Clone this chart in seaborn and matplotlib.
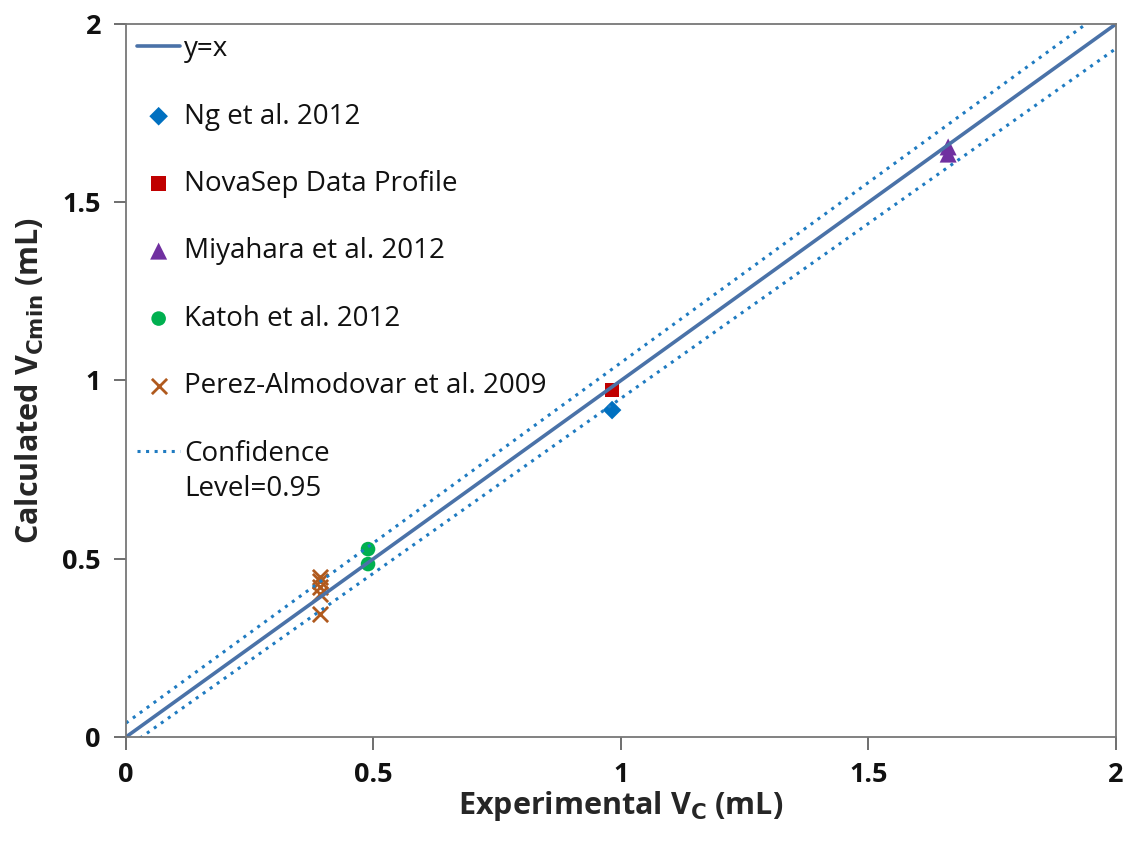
import numpy as np
import pandas as pd
import matplotlib
matplotlib.use("Agg")
import matplotlib.pyplot as plt
import seaborn as sns

# Measured vs. calculated column volumes (mL)
ng_x = [0.982]
ng_y = [0.917]
novasep_x = [0.982]
novasep_y = [0.973]
miyahara_x = [1.661, 1.661]
miyahara_y = [1.655, 1.635]
katoh_x = [0.489, 0.489]
katoh_y = [0.527, 0.485]
perez_x = [0.392, 0.392, 0.392, 0.392, 0.392]
perez_y = [0.450, 0.438, 0.420, 0.402, 0.345]

# Reference line and 95% confidence bounds
line_x = [0.0, 2.0]
identity_y = [0.0, 2.0]
upper_y = [0.039, 2.061]
lower_y = [-0.031, 1.931]

sns.set_theme(style="white")
plt.rcParams["font.family"] = ["Open Sans", "DejaVu Sans"]

fig = plt.figure(figsize=(11.27, 8.47), dpi=100)
ax = fig.add_axes([0.1118, 0.1299, 0.8784, 0.8418])

sns.lineplot(x=line_x, y=identity_y, ax=ax, color="#4A72A8", lw=2.6, label="y=x")
sns.scatterplot(x=ng_x, y=ng_y, ax=ax, marker="D", s=90, color="#0070C0",
                edgecolor="none", label="Ng et al. 2012")
sns.scatterplot(x=novasep_x, y=novasep_y, ax=ax, marker="s", s=110, color="#C00000",
                edgecolor="none", label="NovaSep Data Profile")
sns.scatterplot(x=miyahara_x, y=miyahara_y, ax=ax, marker="^", s=150, color="#7030A0",
                edgecolor="none", label="Miyahara et al. 2012")
sns.scatterplot(x=katoh_x, y=katoh_y, ax=ax, marker="o", s=110, color="#00B050",
                edgecolor="none", label="Katoh et al. 2012")
sns.scatterplot(x=perez_x, y=perez_y, ax=ax, marker="x", s=120, color="#B05A1E",
                linewidth=2, label="Perez-Almodovar et al. 2009")
sns.lineplot(x=line_x, y=upper_y, ax=ax, color="#1F7BC1", lw=2.2,
             linestyle=(0, (1, 1.8)), label="Confidence")
sns.lineplot(x=line_x, y=lower_y, ax=ax, color="#1F7BC1", lw=2.2,
             linestyle=(0, (1, 1.8)))

ax.set_xlim(0, 2)
ax.set_ylim(0, 2)
ax.set_xticks([0, 0.5, 1, 1.5, 2])
ax.set_yticks([0, 0.5, 1, 1.5, 2])
ax.set_xticklabels(["0", "0.5", "1", "1.5", "2"])
ax.set_yticklabels(["0", "0.5", "1", "1.5", "2"])
ax.tick_params(axis="both", labelsize=19.5, direction="out", length=9, width=1.2,
               color="#555555", bottom=True, left=True, pad=9, labelcolor="#111111")
for lab in ax.get_xticklabels() + ax.get_yticklabels():
    lab.set_fontweight("bold")
for sp in ax.spines.values():
    sp.set_color("#777777")
    sp.set_linewidth(1.3)

ax.set_xlabel(r"Experimental V$_\mathbf{C}$ (mL)", fontsize=22, fontweight="bold", labelpad=1)
ax.set_ylabel(r"Calculated V$_\mathbf{Cmin}$ (mL)", fontsize=22, fontweight="bold", labelpad=12)

leg = ax.legend(loc="upper left", bbox_to_anchor=(0.0, 1.0), frameon=False,
                fontsize=20, labelspacing=1.42, handlelength=1.55,
                handletextpad=0.15, borderaxespad=0.0)
for t in leg.get_texts():
    t.set_color("#111111")

# Second line of the confidence entry, placed under its legend label
fig.canvas.draw()
conf_text = leg.get_texts()[-1]
bb = conf_text.get_window_extent().transformed(fig.transFigure.inverted())
fig.text(bb.x0, bb.y0 - 0.008, "Level=0.95", fontsize=20, color="#111111",
         ha="left", va="top")

fig.savefig("out.png", dpi=100)
